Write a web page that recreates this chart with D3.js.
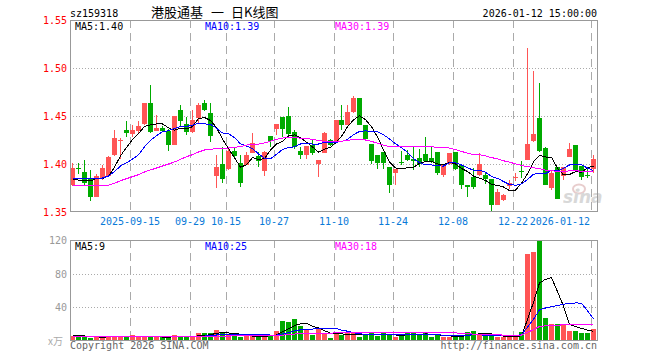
<!DOCTYPE html>
<html>
<head>
  <meta charset="utf-8">
  <title>港股通基 一 日K线图</title>
  <style>
    /* page and text styles */
    body { margin: 0; background: #fff; }
    #chart { width: 660px; height: 360px; }
    text { font-family: "DejaVu Sans Mono", monospace; font-size: 10px; }
  </style>
  <script src="https://d3js.org/d3.v7.min.js"></script>
</head>
<body>
<div id="chart"></div>

<script>
  // trading days shown on the chart
  var dates = [
    "2025-09-01","2025-09-02","2025-09-03","2025-09-04","2025-09-05",
    "2025-09-08","2025-09-09","2025-09-10","2025-09-11","2025-09-12",
    "2025-09-15","2025-09-16","2025-09-17","2025-09-18","2025-09-19",
    "2025-09-22","2025-09-23","2025-09-24","2025-09-25","2025-09-26",
    "2025-09-29","2025-09-30",
    "2025-10-09","2025-10-10",
    "2025-10-13","2025-10-14","2025-10-15","2025-10-16","2025-10-17",
    "2025-10-20","2025-10-21","2025-10-22","2025-10-23","2025-10-24",
    "2025-10-27","2025-10-28","2025-10-29","2025-10-30","2025-10-31",
    "2025-11-03","2025-11-04","2025-11-05","2025-11-06","2025-11-07",
    "2025-11-10","2025-11-11","2025-11-12","2025-11-13","2025-11-14",
    "2025-11-17","2025-11-18","2025-11-19","2025-11-20","2025-11-21",
    "2025-11-24","2025-11-25","2025-11-26","2025-11-27","2025-11-28",
    "2025-12-01","2025-12-02","2025-12-03","2025-12-04","2025-12-05",
    "2025-12-08","2025-12-09","2025-12-10","2025-12-11","2025-12-12",
    "2025-12-15","2025-12-16","2025-12-17","2025-12-18","2025-12-19",
    "2025-12-22","2025-12-23","2025-12-24","2025-12-25","2025-12-26",
    "2025-12-29","2025-12-30","2025-12-31",
    "2026-01-05","2026-01-06","2026-01-07","2026-01-08","2026-01-09",
    "2026-01-12"
  ];

  var opens = [
    1.3780,1.3960,1.3920,1.3840,1.3660,1.3851,1.3875,1.4094,1.4243,1.4354,
    1.4313,1.4347,1.4417,1.4632,1.4347,1.4372,1.4347,1.4198,1.4563,1.4417,
    1.4337,1.4476,1.4632,1.4535,1.3875,1.4000,1.3951,1.4132,1.4007,1.3993,
    1.4118,1.4083,1.3924,1.4292,1.4368,1.4493,1.4500,1.4333,1.4132,1.4090,
    1.4194,1.4000,1.4118,1.4250,1.4243,1.4458,1.4410,1.4542,1.4688,1.4410,
    1.4208,1.4097,1.4125,1.3965,1.3910,1.4016,1.4097,1.4056,1.4063,1.4104,
    1.4063,1.4125,1.3889,1.4000,1.4125,1.3986,1.3785,1.3861,1.3889,1.3889,
    1.3840,1.3576,1.3625,1.3771,1.3865,1.3931,1.4042,1.4236,1.4479,1.4167,
    1.3750,1.3965,1.3875,1.4076,1.4194,1.3979,1.3889,1.3944
  ];
  var highs = [
    1.4007,1.4007,1.4042,1.3938,1.3896,1.3990,1.4083,1.4354,1.4267,1.4451,
    1.4406,1.4451,1.4639,1.4823,1.4510,1.4396,1.4361,1.4503,1.4615,1.4493,
    1.4563,1.4632,1.4667,1.4632,1.4097,1.4174,1.4160,1.4174,1.4090,1.4125,
    1.4326,1.4125,1.4132,1.4292,1.4417,1.4493,1.4597,1.4354,1.4181,1.4188,
    1.4250,1.4042,1.4333,1.4260,1.4458,1.4618,1.4618,1.4708,1.4688,1.4410,
    1.4208,1.4097,1.4125,1.3965,1.3951,1.4132,1.4146,1.4174,1.4160,1.4285,
    1.4174,1.4125,1.4000,1.4118,1.4125,1.3986,1.3785,1.3958,1.4111,1.3910,
    1.3840,1.3743,1.3688,1.3833,1.3903,1.4028,1.5208,1.4972,1.4840,1.4174,
    1.3938,1.3965,1.3972,1.4215,1.4194,1.3979,1.3951,1.4090
  ];
  var lows = [
    1.3770,1.3896,1.3780,1.3618,1.3653,1.3833,1.3870,1.4083,1.4050,1.4285,
    1.4278,1.4319,1.4406,1.4319,1.4340,1.4337,1.4139,1.4195,1.4396,1.4302,
    1.4326,1.4424,1.4550,1.4233,1.3750,1.3799,1.3938,1.4056,1.3764,1.3993,
    1.4111,1.3965,1.3875,1.4181,1.4299,1.4285,1.4300,1.4160,1.4056,1.4056,
    1.4090,1.3868,1.4111,1.4190,1.4233,1.4354,1.4403,1.4535,1.4403,1.4243,
    1.4000,1.3951,1.3951,1.3694,1.3778,1.3986,1.4035,1.3938,1.3965,1.4028,
    1.4014,1.3889,1.3868,1.3986,1.3938,1.3743,1.3653,1.3743,1.3875,1.3792,
    1.3514,1.3569,1.3618,1.3743,1.3826,1.3854,1.4042,1.4229,1.4125,1.3778,
    1.3729,1.3632,1.3833,1.4069,1.3931,1.3833,1.3854,1.3903
  ];
  var closes = [
    1.3955,1.3955,1.3800,1.3660,1.3875,1.3955,1.4076,1.4267,1.4250,1.4319,
    1.4354,1.4396,1.4632,1.4337,1.4372,1.4347,1.4198,1.4500,1.4451,1.4337,
    1.4458,1.4615,1.4563,1.4292,1.3972,1.3847,1.4132,1.4083,1.3799,1.4097,
    1.4222,1.4035,1.4125,1.4243,1.4417,1.4368,1.4310,1.4181,1.4090,1.4188,
    1.4118,1.4042,1.4326,1.4201,1.4458,1.4410,1.4542,1.4688,1.4410,1.4264,
    1.4035,1.4014,1.4014,1.3778,1.3951,1.4014,1.4042,1.4035,1.4000,1.4035,
    1.4021,1.3910,1.4000,1.4118,1.3951,1.3785,1.3757,1.3764,1.4000,1.3840,
    1.3576,1.3708,1.3681,1.3806,1.3868,1.3928,1.4208,1.4313,1.4132,1.3785,
    1.3910,1.3639,1.3965,1.4153,1.3938,1.3868,1.3875,1.4056
  ];

  // volume, 万手
  var volumes = [
    5.9,5.1,4.4,3.6,5.1,5.1,5.9,5.1,4.4,4.4,
    6.7,5.1,4.4,4.4,5.1,4.4,4.4,6.7,5.1,5.1,
    5.1,9.1,9.1,9.1,13.1,9.9,6.7,5.9,5.1,5.9,
    5.9,5.1,6.7,6.7,11.5,24.1,22.6,26.5,17.8,13.8,
    6.7,13.8,9.1,3.2,9.1,7.5,9.1,9.1,5.1,6.7,
    9.1,5.9,9.1,6.7,5.1,6.7,9.1,9.1,6.7,10.7,
    4.4,6.7,4.4,5.1,5.1,6.7,10.7,12.3,7.5,5.9,
    5.9,5.1,4.4,4.4,5.9,10.7,103,106,119.5,27.3,
    20.2,20.2,20.2,12.3,12.3,9.9,9.9,13.8
  ];

  var ma5Head = [1.3837,1.3833,1.3826,1.3823];
  var ma10Head = [1.3854,1.3854,1.3854,1.3854,1.3854,1.3854,1.3875,1.3920,1.3980];
  var ma30Head = [
    1.3771,1.3771,1.3771,1.3771,1.3771,1.3771,1.3778,1.3799,1.3826,1.3847,
    1.3868,1.3889,1.3917,1.3938,1.3958,1.3979,1.4000,1.4021,1.4049,1.4076,
    1.4097,1.4125,1.4146,1.4153,1.4160,1.4163,1.4167,1.4174,1.4181
  ];
  var vma5Head = [7.2,6.6,6.0,5.4];
  var vma10Head = [5.9,5.9,5.8,5.7,5.6,5.5,5.4,5.3,5.1];
  var vma30Head = [
    5.0,5.0,5.0,5.0,5.0,5.0,5.0,5.0,5.0,5.0,
    5.0,5.0,5.1,5.1,5.2,5.2,5.2,5.3,5.3,5.4,
    5.5,5.6,5.7,5.8,5.9,5.9,5.9,6.0,6.0
  ];

  // axis ticks and labels
  var priceTicks = [1.35, 1.40, 1.45, 1.50, 1.55];
  var volumeTicks = [40, 80, 120];
  var dateTicks = ["2025-09-15","2025-09-29","2025-10-15","2025-10-27","2025-11-10",
                   "2025-11-24","2025-12-08","2025-12-22","2026-01-12"];
  var dateTickLabels = ["2025-09-15","09-29","10-15","10-27","11-10",
                        "11-24","12-08","12-22","2026-01-12"];
  var priceLegend = ["MA5:1.40", "MA10:1.39", "MA30:1.39"];
  var volumeLegend = ["MA5:9", "MA10:25", "MA30:18"];

  var RED = "#ff5555", GREEN = "#00aa00";
  var maColors = ["#000000", "#0000ff", "#ff00ff"];

  function movingAvg(values, n, head) {
    return values.map(function(v, i) {
      if (i < n - 1) return head[i];
      return d3.mean(values.slice(i - n + 1, i + 1));
    });
  }

  function drawChart() {
    var svg = d3.select("#chart").append("svg")
      .attr("width", 660)
      .attr("height", 360);

    var left = 70, right = 597;
    var x = d3.scaleBand().domain(dates).range([left, right]);
    var y = d3.scaleLinear().domain([1.35, 1.55]).range([212, 20]);
    var yv = d3.scaleLinear().domain([0, 120]).range([341, 240]);

    function xLeft(i) { return Math.round(x(dates[i])); }
    function xMid(i) { return xLeft(i) + 2.5; }
    function isUp(i) { return closes[i] > opens[i]; }

    // header texts
    svg.append("text").attr("x", 70).attr("y", 17).text("sz159318");
    svg.append("text").attr("x", 151).attr("y", 17)
      .style("font-family", "'Noto Sans CJK SC'").style("font-size", "13px")
      .text("港股通基");
    svg.append("text").attr("x", 211).attr("y", 17)
      .style("font-family", "'Noto Sans CJK SC'").style("font-size", "13px")
      .text("一");
    svg.append("text").attr("x", 231).attr("y", 17)
      .style("font-family", "'Noto Sans CJK SC'").style("font-size", "13px")
      .text("日K线图");
    svg.append("text").attr("x", 597).attr("y", 17).attr("text-anchor", "end")
      .text("2026-01-12 15:00:00");

    // grid: vertical dashed lines on the date ticks, both panels
    var grid = svg.append("g");
    dateTicks.forEach(function(d) {
      var gx = xLeft(dates.indexOf(d)) + 0.5;
      [[20, 212], [240, 341]].forEach(function(r) {
        grid.append("line")
          .attr("x1", gx).attr("x2", gx).attr("y1", r[0]).attr("y2", r[1])
          .attr("stroke", "#aaa").attr("stroke-dasharray", "8,5");
      });
    });
    // horizontal dotted lines
    [1.40, 1.45, 1.50].forEach(function(p) {
      var gy = Math.round(y(p)) + 0.5;
      grid.append("line").attr("x1", left).attr("x2", right).attr("y1", gy).attr("y2", gy)
        .attr("stroke", "#aaa").attr("stroke-dasharray", "1,2");
    });
    [40, 80].forEach(function(v) {
      var gy = Math.round(yv(v)) + 0.5;
      grid.append("line").attr("x1", left).attr("x2", right).attr("y1", gy).attr("y2", gy)
        .attr("stroke", "#aaa").attr("stroke-dasharray", "1,2");
    });

    // sina watermark
    var mark = svg.append("g").attr("opacity", 0.9);
    mark.append("ellipse").attr("cx", 579).attr("cy", 189).attr("rx", 6).attr("ry", 4.5)
      .attr("fill", "none").attr("stroke", "#e6c8c8").attr("stroke-width", 2);
    mark.append("circle").attr("cx", 578).attr("cy", 190).attr("r", 1.8).attr("fill", "#ddd");
    mark.append("text").attr("x", 563).attr("y", 203)
      .style("font-family", "'DejaVu Sans'").style("font-size", "17px")
      .style("font-weight", "bold").style("font-style", "italic")
      .attr("fill", "#d4d4d4").text("sina");

    // price axis labels
    svg.append("g").selectAll("text").data(priceTicks).enter().append("text")
      .attr("x", 67).attr("y", function(d) { return y(d) + 4; })
      .attr("text-anchor", "end").attr("fill", "#ff0000")
      .text(function(d) { return d.toFixed(2); });

    // volume axis labels
    svg.append("g").selectAll("text").data(volumeTicks).enter().append("text")
      .attr("x", 67).attr("y", function(d) { return yv(d) + 4; })
      .attr("text-anchor", "end").attr("fill", "#999")
      .text(function(d) { return d; });
    svg.append("text").attr("x", 48).attr("y", 345).attr("fill", "#aaa")
      .style("font-family", "'Noto Sans CJK SC'").style("font-size", "10px")
      .text("x万");

    // date labels
    svg.append("g").selectAll("text").data(dateTicks).enter().append("text")
      .attr("x", function(d, k) {
        var gx = xLeft(dates.indexOf(d));
        return k === dateTicks.length - 1 ? gx - 1 : gx;
      })
      .attr("y", 225)
      .attr("text-anchor", function(d, k) { return k === dateTicks.length - 1 ? "end" : "middle"; })
      .attr("fill", "#0a7ad8")
      .text(function(d, k) { return dateTickLabels[k]; });

    // candles
    var idx = d3.range(dates.length);
    var candles = svg.append("g").selectAll("g").data(idx).enter().append("g")
      .attr("shape-rendering", "crispEdges");
    candles.append("line")
      .attr("x1", xMid).attr("x2", xMid)
      .attr("y1", function(i) { return Math.round(y(highs[i])); })
      .attr("y2", function(i) { return Math.round(y(lows[i])); })
      .attr("stroke", function(i) { return isUp(i) ? RED : GREEN; });
    candles.append("rect")
      .attr("x", xLeft)
      .attr("width", 5)
      .attr("y", function(i) { return Math.round(y(Math.max(opens[i], closes[i]))); })
      .attr("height", function(i) {
        return Math.max(1, Math.round(y(Math.min(opens[i], closes[i]))) - Math.round(y(Math.max(opens[i], closes[i]))));
      })
      .attr("fill", function(i) { return isUp(i) ? RED : GREEN; });

    // volume bars
    svg.append("g").attr("shape-rendering", "crispEdges")
      .selectAll("rect").data(idx).enter().append("rect")
      .attr("x", xLeft)
      .attr("width", 5)
      .attr("y", function(i) { return Math.round(yv(Math.min(volumes[i], 120))); })
      .attr("height", function(i) { return 341 - Math.round(yv(Math.min(volumes[i], 120))); })
      .attr("fill", function(i) { return isUp(i) ? RED : GREEN; });

    // moving average lines
    var priceMAs = [movingAvg(closes, 5, ma5Head), movingAvg(closes, 10, ma10Head), movingAvg(closes, 30, ma30Head)];
    var volMAs = [movingAvg(volumes, 5, vma5Head), movingAvg(volumes, 10, vma10Head), movingAvg(volumes, 30, vma30Head)];

    var priceLine = d3.line().x(function(v, i) { return xMid(i); }).y(function(v) { return y(v); });
    var volLine = d3.line().x(function(v, i) { return xMid(i); }).y(function(v) { return yv(v); });

    svg.append("clipPath").attr("id", "volclip").append("rect")
      .attr("x", left).attr("y", 240).attr("width", right - left).attr("height", 101);

    priceMAs.forEach(function(ma, k) {
      svg.append("path").datum(ma).attr("d", priceLine)
        .attr("fill", "none").attr("stroke", maColors[k]).attr("stroke-width", 1)
        .attr("shape-rendering", "crispEdges");
    });
    volMAs.forEach(function(ma, k) {
      svg.append("path").datum(ma).attr("d", volLine).attr("clip-path", "url(#volclip)")
        .attr("fill", "none").attr("stroke", maColors[k]).attr("stroke-width", 1)
        .attr("shape-rendering", "crispEdges");
    });

    // panel frames
    [[20, 212], [240, 341]].forEach(function(r) {
      svg.append("rect")
        .attr("x", left + 0.5).attr("y", r[0] + 0.5)
        .attr("width", right - left).attr("height", r[1] - r[0] - 1)
        .attr("fill", "none").attr("stroke", "#999");
    });

    // legends
    var legendX = [75, 205, 335];
    priceLegend.forEach(function(t, k) {
      svg.append("text").attr("x", legendX[k]).attr("y", 30).attr("fill", maColors[k]).text(t);
    });
    volumeLegend.forEach(function(t, k) {
      svg.append("text").attr("x", legendX[k]).attr("y", 250).attr("fill", maColors[k]).text(t);
    });

    // footer
    svg.append("text").attr("x", 70).attr("y", 349).attr("fill", "#666").text("Copyright 2026 SINA.COM");
    svg.append("text").attr("x", 597).attr("y", 349).attr("text-anchor", "end").attr("fill", "#666")
      .text("http://finance.sina.com.cn");
  }

  drawChart();
</script>
</body>
</html>
